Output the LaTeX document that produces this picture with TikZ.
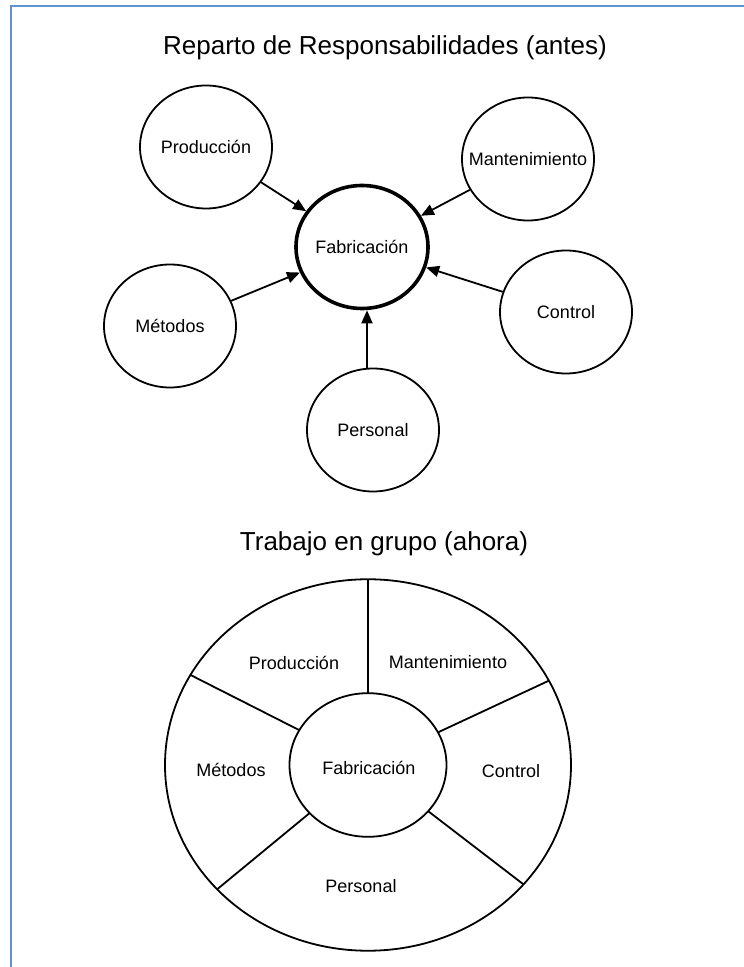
\documentclass[tikz,border=0pt]{standalone}
\usepackage{fontspec}
\setmainfont{Liberation Sans}
\usepackage{xcolor}
\usepackage{tikz}
\usetikzlibrary{shapes.geometric, arrows.meta, positioning}

\definecolor{framecol}{RGB}{98,145,208}

\begin{document}
\begin{tikzpicture}[
  x=1pt, y=1pt,
  every node/.style={font=\fontsize{18}{20}\selectfont},
  bubble/.style={ellipse, draw=black, line width=1.8pt, minimum width=132pt,
                 minimum height=123pt, inner xsep=-15pt, inner ysep=0pt,
                 align=center},
  hub/.style={bubble, line width=3.6pt},
  arr/.style={-{Triangle[length=13pt, width=11pt]}, line width=1.8pt},
  wheel/.style={draw=black, line width=1.8pt},
  heading/.style={font=\fontsize{26}{30}\selectfont, anchor=base},
]
  \useasboundingbox (0,0) rectangle (744,967);

  % ── Page frame ───────────────────────────────────
  \draw[framecol, line width=2.5pt] (744,961) -- (11,961) -- (11,0);

  % ── Before: split responsibilities ───────────────
  \node[heading] (titA) at (385,912) {Reparto de Responsabilidades (antes)};

  \node[hub]    (fab)  at (362,720) {Fabricación};
  \node[bubble] (prod) at (206,820) {Producción};
  \node[bubble] (mant) at (528,808) {Mantenimiento};
  \node[bubble] (met)  at (170,641) {Métodos};
  \node[bubble] (ctrl) at (566,655) {Control};
  \node[bubble] (pers) at (373,537) {Personal};

  \draw[arr] (prod) -- (fab);
  \draw[arr] (mant) -- (fab);
  \draw[arr] (met)  -- (fab);
  \draw[arr] (ctrl) -- (fab);
  \draw[arr] (pers.north -| 367,0) -- (fab.south -| 367,0);

  % ── Now: group work ──────────────────────────────
  \node[heading] (titB) at (384,416) {Trabajo en grupo (ahora)};

  \begin{scope}[shift={(368,202)}, yscale=0.915]
    \draw[wheel] (0,0) circle (203);
    \draw[wheel] (0,0) circle (78.5);
    \foreach \a in {90,27,-40,222,151}
      \draw[wheel] (\a:78.5) -- (\a:203);
  \end{scope}

  \node (wfab)  at (369,199) {Fabricación};
  \node (wprod) at (294,304) {Producción};
  \node (wmant) at (448,305) {Mantenimiento};
  \node (wmet)  at (231,197) {Métodos};
  \node (wctrl) at (511,196) {Control};
  \node (wpers) at (361,81)  {Personal};

\end{tikzpicture}
\end{document}
